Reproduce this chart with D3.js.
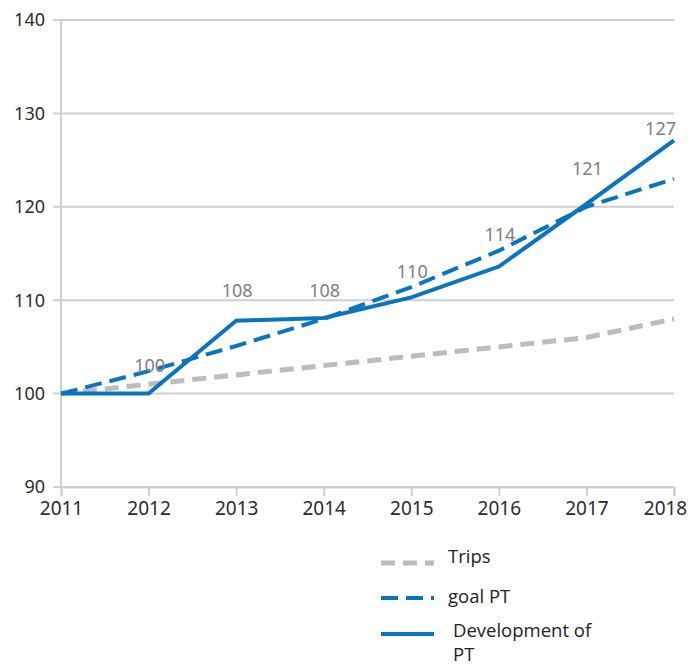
<!DOCTYPE html>
<html>
<head>
<meta charset="utf-8">
<script src="https://cdn.jsdelivr.net/npm/d3@7"></script>
<style>
body { margin:0; background:#fff; }
svg text { font-family: "Noto Sans", sans-serif; }
</style>
</head>
<body>
<svg id="chart"></svg>
<script>
var years = [2011,2012,2013,2014,2015,2016,2017,2018]
var trips = [100,101,102,103,104,105,106,108]
var goalPT = [100,102.4,105.1,108,111.4,115.3,120,123]
var devPT = [100,100,107.8,108.1,110.3,113.6,120.3,127.1]
var devLabels = ["","100","108","108","110","114","121","127"]
var yTicks = [90,100,110,120,130,140]

var blue = "#0b74bf"
var grey = "#bcbcbc"

var initGraph = function(target)
{
    var screen = {width:692, height:668}
    var margins = {top:20, left:61, right:18}
    var graph = {width:613, height:467}

    var svg = d3.select(target)
        .attr("width",screen.width)
        .attr("height",screen.height)

    var xScale = d3.scalePoint()
        .domain(years)
        .range([0,graph.width])

    var yScale = d3.scaleLinear()
        .domain([90,140])
        .range([graph.height,0])

    var g = svg.append("g")
        .attr("transform","translate("+margins.left+","+margins.top+")")

    //grid lines
    g.append("g")
        .selectAll("line")
        .data(yTicks)
        .enter()
        .append("line")
        .attr("x1",-8)
        .attr("x2",graph.width)
        .attr("y1",function(d){ return yScale(d) })
        .attr("y2",function(d){ return yScale(d) })
        .attr("stroke","#cfcfcf")
        .attr("stroke-width",2)

    //y axis line
    g.append("line")
        .attr("x1",0).attr("x2",0)
        .attr("y1",0).attr("y2",graph.height)
        .attr("stroke","#cfcfcf")
        .attr("stroke-width",2)

    //x axis
    var xAxis = d3.axisBottom(xScale).tickSize(9).tickPadding(6)
    var xa = g.append("g")
        .attr("transform","translate(0,"+graph.height+")")
        .call(xAxis)
    xa.select(".domain").attr("stroke","#cfcfcf").attr("stroke-width",2)
    xa.selectAll(".tick line").attr("stroke","#cfcfcf").attr("stroke-width",2)
    xa.selectAll("text")
        .attr("fill","#2b2b2b")
        .style("font-size","19px")
        .attr("dx",function(d){ return d==2018 ? -9 : 0 })

    //y labels
    g.append("g")
        .selectAll("text")
        .data(yTicks)
        .enter()
        .append("text")
        .attr("x",-16)
        .attr("y",function(d){ return yScale(d) })
        .attr("dy","0.35em")
        .attr("text-anchor","end")
        .attr("fill","#2b2b2b")
        .style("font-size","18px")
        .text(function(d){ return d })

    var line = function(vals)
    {
        return d3.line()
            .x(function(d,i){ return xScale(years[i]) })
            .y(function(d){ return yScale(d) })(vals)
    }

    g.append("path")
        .attr("d",line(trips))
        .attr("fill","none")
        .attr("stroke",grey)
        .attr("stroke-width",5)
        .attr("stroke-dasharray","14,8")

    g.append("path")
        .attr("d",line(goalPT))
        .attr("fill","none")
        .attr("stroke",blue)
        .attr("stroke-width",4)
        .attr("stroke-dasharray","17,8")

    g.append("path")
        .attr("d",line(devPT))
        .attr("fill","none")
        .attr("stroke",blue)
        .attr("stroke-width",4)

    //data labels
    g.append("g")
        .selectAll("text")
        .data(devLabels)
        .enter()
        .append("text")
        .attr("x",function(d,i){ return i==years.length-1 ? xScale(years[i])+2 : xScale(years[i])+1 })
        .attr("y",function(d,i){ return i==years.length-1 ? yScale(+d)-6 : yScale(+d)-22 })
        .attr("text-anchor",function(d,i){ return i==years.length-1 ? "end" : "middle" })
        .attr("fill","#808080")
        .style("font-size","18px")
        .text(function(d){ return d })

    //legend
    var legend = [
        {name:["Trips"], color:grey, dash:"14,8", w:5, y:563, ty:557},
        {name:["goal PT"], color:blue, dash:"17,8", w:4, y:598, ty:597},
        {name:["Development of","PT"], color:blue, dash:null, w:4, y:634, ty:631}
    ]
    var lg = svg.append("g")
    legend.forEach(function(l,i)
    {
        lg.append("line")
            .attr("x1",381).attr("x2",434)
            .attr("y1",l.y).attr("y2",l.y)
            .attr("stroke",l.color)
            .attr("stroke-width",l.w)
            .attr("stroke-dasharray",l.dash)
        l.name.forEach(function(t,j)
        {
            lg.append("text")
                .attr("x",i==2 ? 453 : 448)
                .attr("y",l.ty+j*24)
                .attr("dy","0.35em")
                .attr("fill","#222")
                .style("font-family","'Open Sans', sans-serif")
                .style("font-size","18.5px")
                .text(t)
        })
    })
}

initGraph("#chart")
</script>
</body>
</html>
